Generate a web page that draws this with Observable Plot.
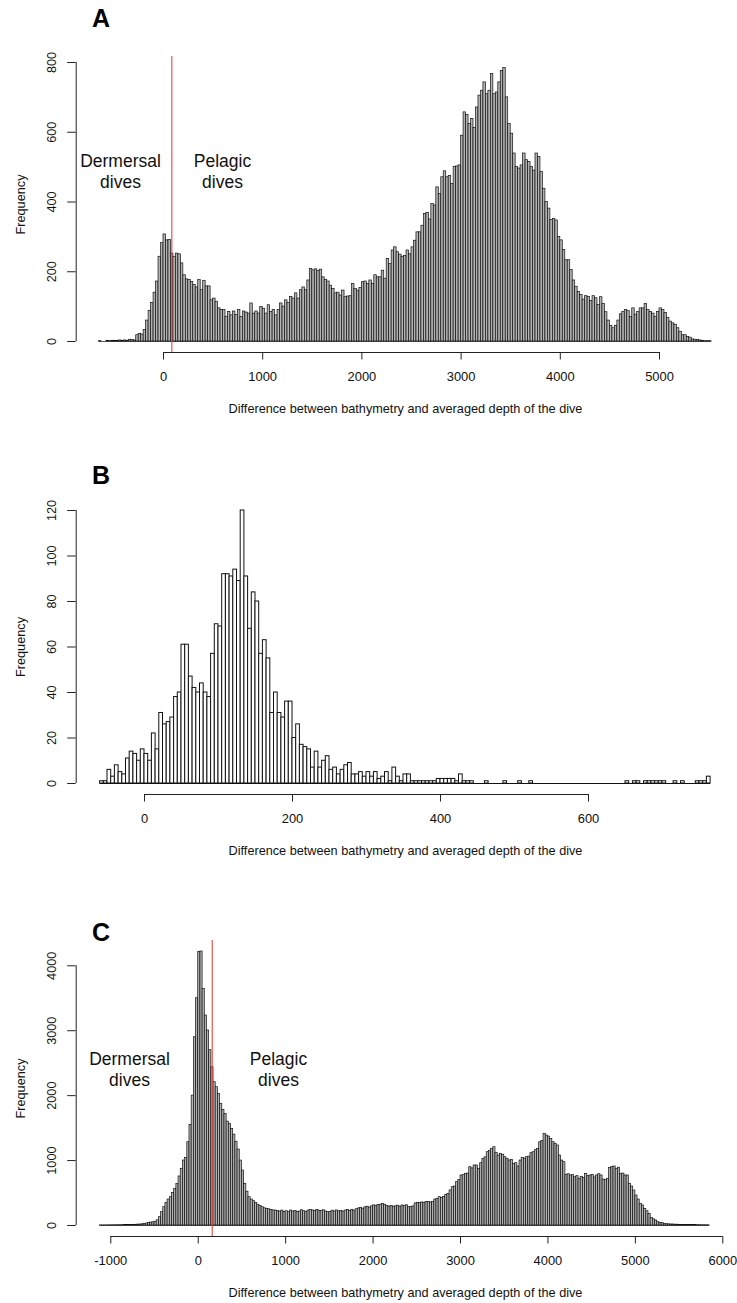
<!DOCTYPE html>
<html><head><meta charset="utf-8">
<script src="https://cdn.jsdelivr.net/npm/d3@7"></script>
<script src="https://cdn.jsdelivr.net/npm/@observablehq/plot@0.6"></script>
<style>
body{margin:0;background:#fff;}
#chart{width:737px;height:1303px;}
#chart svg{display:block;}
</style></head><body><div id="chart"></div>
<script>
// ---------- data ----------
const axisTitle = "Difference between bathymetry and averaged depth of the dive";
const yTitle = "Frequency";
const panelLetters = ["A", "B", "C"];
const regionLabels = ["Dermersal\ndives", "Pelagic\ndives"];

// Panel A: bins of 25 starting at -650
const binStartA = -650, binWidthA = 25;
const countsA = [
  1,0,0,2,1,2,2,2,3,2,3,2,5,4,3,
  18,22,20,33,60,88,110,140,172,243,282,
  307,290,291,252,243,252,250,224,190,178,176,171,162,155,176,147,174,158,158,118,123,114,95,90,
  90,71,85,75,86,76,90,70,86,83,80,109,80,86,80,99,94,80,104,85,90,75,90,109,100,118,110,128,123,138,123,147,
  155,147,175,208,204,207,202,206,184,176,172,160,151,138,140,132,146,127,129,130,165,151,146,153,
  170,172,165,175,165,190,184,184,203,180,237,222,261,270,256,249,243,245,261,250,
  270,289,313,313,332,366,369,350,394,390,442,423,471,488,471,475,452,500,502,505,
  590,657,650,624,638,612,671,705,719,743,709,719,767,709,714,743,776,784,700,
  624,596,539,500,496,505,539,520,515,500,490,539,529,486,438,400,381,348,351,347,300,
  290,262,233,233,205,175,157,142,133,120,130,128,116,130,124,105,127,108,84,60,
  45,38,45,60,78,85,90,87,70,95,77,85,95,95,108,90,85,80,71,85,
  95,90,82,68,57,52,48,38,28,18,18,13,11,6,5,4,3,2,1,1,1
];
const thresholdA = 84;
const xTicksA = [0, 1000, 2000, 3000, 4000, 5000];
const yTicksA = [0, 200, 400, 600, 800];

// Panel B: bins of 5 starting at -60
const binStartB = -60, binWidthB = 5;
const countsB = [
  1,1,6,3,8,5,4,11,14,13, 10,15,13,10,22,15,31,26,27,29,
  38,40,61,61,47,42,40,44,40,38, 57,70,69,92,92,91,94,89,120,91,
  68,84,80,57,63,55,31,40,31,29, 36,36,20,26,17,16,15,7,14,7,
  10,12,6,7,4,6,8,9,4,4, 5,3,
  5,3,5,2,3,5,1,7,3,1, 4,4,1,1,1,1,1,1,1,2,
  2,2,2,2,1,4,1,1,1,0, 0,0,1,0,0,0,0,1,0,0,
  0,1,0,0,1,0,0,0,0,0, 0,0,0,0,0,0,0,0,0,0,
  0,0,0,0,0,0,0,0,0,0, 1,0,1,1,0,1,1,1,1,1,
  1,0,0,1,0,1,0,0,0,1, 1,1,3
];
const xTicksB = [0, 200, 400, 600];
const yTicksB = [0, 20, 40, 60, 80, 100, 120];

// Panel C: bins of 25 starting at -1125
const binStartC = -1125, binWidthC = 25;
const countsC = [
  2,1,2,2,3,3,3,4,4,5, 5,6,6,7,8,9,11,13,15,18,
  22,30,40,45,50,58,80,128,205,282,
  350,400,436,500,565,642,755,873,1001,1040,
  1283,1550,2000,2900,3500,4215,4220,3645,3234,3003,
  2700,2438,2207,2130,2028,1874,1781,1720,1600,1566,
  1489,1400,1290,1170,1000,847,642,520,436,400,
  375,345,320,300,282,265,257,250,240,231,
  230,225,215,230,210,220,205,230,215,222,
  208,215,235,220,210,230,238,232,225,240,
  228,222,235,215,205,210,228,215,232,218,
  225,215,230,238,225,242,230,250,262,272,
  258,280,290,275,295,310,300,315,320,330,
  320,300,292,300,288,295,305,290,308,300,
  312,282,285,295,340,350,345,355,345,360,
  362,355,365,400,410,436,425,440,470,488,
  540,590,600,667,700,770,775,796,800,898,
  880,924,924,873,960,1027,1050,1129,1150,1181,
  1206,1120,1078,1104,1090,1052,1027,1001,1010,950,
  960,909,1001,1042,1030,1052,1060,1114,1129,1160,
  1181,1283,1300,1412,1386,1370,1335,1283,1260,1232,
  1078,1000,975,780,790,770,775,744,760,720,
  750,734,796,760,770,780,740,770,790,770,
  708,700,720,888,900,909,873,890,796,800,
  770,770,642,600,539,462,400,334,308,257,
  220,180,118,95,77,51,40,36,25,20,
  18,15,15,12,12,10,10,9,8,8,
  7,6,6,5,5,4,4,3,3
];
const thresholdC = 160;
const xTicksC = [-1000, 0, 1000, 2000, 3000, 4000, 5000, 6000];
const yTicksC = [0, 1000, 2000, 3000, 4000];

// ---------- layout ----------
const W = 737;
const FONT = '"Liberation Sans", Arial, Helvetica, sans-serif';
const AXIS = "#222";
const RED = "#e5463f";

function toBins(start, width, counts) {
  return counts.map((c, i) => ({x1: start + i * width, x2: start + (i + 1) * width, y0: 0, count: c}));
}
function lin(v0, p0, v1, p1) {
  const k = (p1 - p0) / (v1 - v0);
  return p => v0 + (p - p0) / k;
}

function panel(cfg) {
  const top = cfg.top, H = cfg.height;
  const xAt = lin(cfg.xa[0], cfg.xa[1], cfg.xb[0], cfg.xb[1]);
  const yAt = lin(cfg.ya[0], cfg.ya[1], cfg.yb[0], cfg.yb[1]); // page px -> value
  const left = 75.7;
  const bins = toBins(cfg.start, cfg.width, cfg.counts);
  const xT = cfg.xTicks, yT = cfg.yTicks;
  const marks = [
    Plot.rect(bins, {x1: "x1", x2: "x2", y1: "y0", y2: "count",
      fill: cfg.fill, stroke: "#111", strokeWidth: cfg.sw}),
    // baseline of the histogram (zero-count bins)
    Plot.ruleY([0], {y: d => d, x1: () => bins[0].x1, x2: () => bins[bins.length - 1].x2, stroke: "#111", strokeWidth: cfg.sw}),
    // y axis
    Plot.ruleX([xAt(left)], {x: d => d, y1: () => yT[0], y2: () => yT[yT.length - 1], stroke: AXIS}),
    Plot.ruleY(yT, {y: d => d, x1: () => xAt(left - 8.5), x2: () => xAt(left), stroke: AXIS}),
    Plot.text(yT, {x: () => xAt(51.5), y: d => d, text: d => String(d), rotate: -90, fontSize: 12.7, fill: "#111"}),
    // x axis
    Plot.ruleY([yAt(cfg.axisY)], {y: d => d, x1: () => xT[0], x2: () => xT[xT.length - 1], stroke: AXIS}),
    Plot.ruleX(xT, {x: d => d, y1: () => yAt(cfg.axisY), y2: () => yAt(cfg.axisY + 7.5), stroke: AXIS}),
    Plot.text(xT, {x: d => d, y: () => yAt(cfg.axisY + 24.5), text: d => String(d), fontSize: 12.9, fill: "#111"}),
    Plot.text([axisTitle], {x: () => xAt(405), y: () => yAt(cfg.axisY + 56), text: d => d, fontSize: 12.7, fill: "#111"}),
    Plot.text([yTitle], {x: () => xAt(20), y: () => yAt((cfg.regionTop + cfg.axisY) / 2), text: d => d, rotate: -90, fontSize: 12.7, fill: "#111"}),
    Plot.text([cfg.letter], {x: () => xAt(91.5), y: () => yAt(cfg.letterY), text: d => d, textAnchor: "start", fontWeight: "bold", fontSize: 25, fill: "#000"})
  ];
  if (cfg.threshold != null) {
    marks.push(Plot.ruleX([cfg.threshold], {x: d => d, y1: () => yAt(cfg.axisY), y2: () => yAt(cfg.regionTop), stroke: RED, strokeWidth: 1.1}));
    marks.push(Plot.text(regionLabels, {x: (d, i) => xAt(cfg.labelX[i]), y: () => yAt(cfg.labelY), text: d => d,
      lineHeight: 1.2, fontSize: 17.5, fill: "#111"}));
  }
  return Plot.plot({
    width: W, height: H,
    marginLeft: left, marginRight: 2,
    marginTop: cfg.regionTop - top, marginBottom: top + H - cfg.axisY,
    style: {fontFamily: FONT, background: "#fff", color: "#111"},
    x: {domain: [cfg.xa[0], cfg.xb[0]], range: [cfg.xa[1], cfg.xb[1]], axis: null},
    y: {domain: [cfg.ya[0], cfg.yb[0]], range: [cfg.ya[1] - top, cfg.yb[1] - top], axis: null},
    marks
  });
}

const chart = document.getElementById("chart");
chart.append(panel({
  top: 0, height: 430, letter: panelLetters[0], letterY: 18,
  start: binStartA, width: binWidthA, counts: countsA, fill: "#b3b3b3", sw: 0.7,
  xa: [0, 163], xb: [5000, 659], ya: [0, 341], yb: [800, 62],
  regionTop: 56, axisY: 352, xTicks: xTicksA, yTicks: yTicksA,
  threshold: thresholdA, labelX: [120, 222], labelY: 170.5
}));
chart.append(panel({
  top: 430, height: 440, letter: panelLetters[1], letterY: 475,
  start: binStartB, width: binWidthB, counts: countsB, fill: "#fff", sw: 1,
  xa: [0, 144], xb: [600, 588], ya: [0, 783], yb: [120, 510],
  regionTop: 499, axisY: 794, xTicks: xTicksB, yTicks: yTicksB
}));
chart.append(panel({
  top: 870, height: 433, letter: panelLetters[2], letterY: 932,
  start: binStartC, width: binWidthC, counts: countsC, fill: "#b3b3b3", sw: 0.7,
  xa: [-1000, 110.3], xb: [6000, 722.3], ya: [0, 1225], yb: [4000, 965.3],
  regionTop: 940, axisY: 1236, xTicks: xTicksC, yTicks: yTicksC,
  threshold: thresholdC, labelX: [129, 278], labelY: 1068.5
}));
</script>
</body></html>
